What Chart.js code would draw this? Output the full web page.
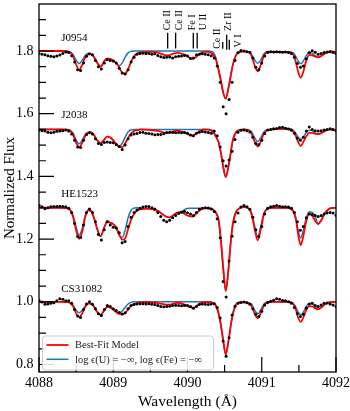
<!DOCTYPE html>
<html><head><meta charset="utf-8">
<script src="https://cdn.jsdelivr.net/npm/chart.js@4.4.0/dist/chart.umd.min.js"></script>
<style>html,body{margin:0;padding:0;background:#fff;}canvas{display:block;}</style>
</head><body>
<canvas id="c" width="350" height="411"></canvas>
<script>
// ---------- data ----------
const dataWl = [
4088.00,4088.04,4088.08,4088.12,4088.16,4088.20,4088.24,4088.28,4088.32,4088.36,
4088.40,4088.44,4088.48,4088.52,4088.56,4088.60,4088.64,4088.68,4088.72,4088.76,
4088.80,4088.84,4088.88,4088.92,4088.96,4089.00,4089.04,4089.08,4089.12,4089.16,
4089.20,4089.24,4089.28,4089.32,4089.36,4089.40,4089.44,4089.48,4089.52,4089.56,
4089.60,4089.64,4089.68,4089.72,4089.76,4089.80,4089.84,4089.88,4089.92,4089.96,
4090.00,4090.04,4090.08,4090.12,4090.16,4090.20,4090.24,4090.28,4090.32,4090.36,
4090.40,4090.44,4090.48,4090.52,4090.56,4090.60,4090.64,4090.68,4090.72,4090.76,
4090.80,4090.84,4090.88,4090.92,4090.96,4091.00,4091.04,4091.08,4091.12,4091.16,
4091.20,4091.24,4091.28,4091.32,4091.36,4091.40,4091.44,4091.48,4091.52,4091.56,
4091.60,4091.64,4091.68,4091.72,4091.76,4091.80,4091.84,4091.88,4091.92,4091.96,
4092.00];

const modelWl = [
4088.00,4088.10,4088.20,4088.30,4088.38,4088.42,4088.46,4088.50,4088.54,4088.58,
4088.62,4088.66,4088.70,4088.74,4088.78,4088.83,4088.88,4088.92,4088.96,4089.00,
4089.04,4089.08,4089.12,4089.16,4089.20,4089.24,4089.28,4089.32,4089.38,4089.45,
4089.52,4089.60,4089.66,4089.71,4089.76,4089.81,4089.86,4089.92,4089.97,4090.02,
4090.07,4090.12,4090.17,4090.22,4090.28,4090.34,4090.38,4090.42,4090.45,4090.48,
4090.515,4090.55,4090.58,4090.61,4090.65,4090.70,4090.76,4090.82,4090.86,4090.90,
4090.945,4090.99,4091.03,4091.08,4091.15,4091.25,4091.35,4091.42,4091.46,4091.49,
4091.525,4091.56,4091.60,4091.64,4091.68,4091.72,4091.76,4091.80,4091.85,4091.92,
4092.00];

const stars = ['J0954','J2038','HE1523','CS31082'];

// observed spectra (offset)
const obsJ0954 = [
1.792,1.790,1.788,1.785,1.783,1.782,1.784,1.787,1.792,1.797,
1.795,1.785,1.765,1.740,1.738,1.762,1.783,1.791,1.788,1.770,
1.750,1.743,1.762,1.772,1.770,1.768,1.762,1.745,1.730,1.727,
1.740,1.765,1.780,1.790,1.792,1.793,1.792,1.792,1.790,1.791,
1.786,1.782,1.779,1.780,1.781,1.778,1.782,1.783,1.784,1.786,
1.784,1.776,1.778,1.788,1.790,1.791,1.790,1.788,1.785,1.778,
1.752,1.700,1.622,1.600,1.645,1.700,1.770,1.795,1.802,1.800,
1.798,1.796,1.778,1.748,1.740,1.762,1.784,1.795,1.798,1.797,
1.798,1.797,1.796,1.797,1.795,1.792,1.780,1.760,1.748,1.752,
1.775,1.795,1.801,1.796,1.790,1.792,1.795,1.797,1.798,1.795,
1.792];
const obsJ2038 = [
1.548,1.546,1.545,1.541,1.539,1.541,1.544,1.545,1.546,1.548,
1.545,1.535,1.515,1.494,1.492,1.515,1.534,1.539,1.535,1.520,
1.505,1.502,1.508,1.510,1.508,1.507,1.502,1.495,1.486,1.500,
1.520,1.532,1.535,1.537,1.540,1.541,1.538,1.537,1.535,1.533,
1.534,1.534,1.536,1.540,1.541,1.540,1.539,1.540,1.539,1.540,
1.538,1.532,1.530,1.538,1.541,1.543,1.542,1.540,1.538,1.545,
1.530,1.494,1.450,1.433,1.452,1.480,1.518,1.541,1.547,1.548,
1.546,1.542,1.525,1.505,1.501,1.515,1.537,1.548,1.550,1.552,
1.553,1.556,1.557,1.554,1.551,1.547,1.538,1.522,1.515,1.525,
1.545,1.558,1.550,1.546,1.545,1.546,1.548,1.550,1.552,1.550,
1.546];
const obsHE1523 = [
1.308,1.303,1.297,1.300,1.303,1.304,1.304,1.305,1.304,1.303,
1.298,1.285,1.250,1.208,1.205,1.245,1.285,1.296,1.285,1.255,
1.215,1.197,1.230,1.255,1.245,1.238,1.235,1.220,1.188,1.192,
1.240,1.270,1.285,1.293,1.298,1.302,1.304,1.304,1.300,1.296,
1.285,1.272,1.260,1.255,1.260,1.268,1.275,1.282,1.286,1.288,
1.284,1.280,1.275,1.285,1.295,1.298,1.300,1.299,1.296,1.288,
1.265,1.204,1.065,1.015,1.130,1.209,1.255,1.283,1.302,1.307,
1.303,1.295,1.270,1.230,1.208,1.240,1.280,1.298,1.303,1.305,
1.307,1.305,1.303,1.303,1.302,1.298,1.285,1.255,1.228,1.240,
1.268,1.280,1.278,1.275,1.272,1.275,1.280,1.283,1.285,1.283,
1.276];
const obsCS31082 = [
1.004,0.999,0.992,0.993,0.995,0.997,1.003,1.010,1.008,1.003,
1.003,0.995,0.975,0.955,0.950,0.975,0.993,1.000,0.992,0.978,
0.962,0.956,0.975,0.988,0.985,0.978,0.972,0.966,0.961,0.965,
0.978,0.988,0.991,0.993,0.994,0.994,0.993,0.994,0.992,0.991,
0.988,0.985,0.984,0.985,0.986,0.988,0.989,0.988,0.987,0.988,
0.988,0.985,0.979,0.985,0.991,0.993,0.992,0.991,0.993,0.994,
0.982,0.948,0.875,0.826,0.885,0.958,0.986,0.995,0.998,0.999,
0.997,0.992,0.978,0.960,0.953,0.970,0.990,0.998,1.002,1.005,
1.010,1.008,1.004,1.003,1.000,0.995,0.982,0.963,0.953,0.960,
0.980,0.993,0.995,0.988,0.985,0.990,0.995,0.996,0.993,0.990,
0.985];

// best-fit models
const bestJ0954 = [
1.800,1.800,1.800,1.800,1.799,1.796,1.783,1.757,1.740,1.755,
1.778,1.789,1.790,1.781,1.764,1.750,1.768,1.776,1.775,1.770,
1.762,1.748,1.731,1.728,1.742,1.765,1.783,1.792,1.796,1.797,
1.797,1.795,1.790,1.786,1.787,1.792,1.794,1.792,1.788,1.780,
1.775,1.782,1.792,1.797,1.797,1.790,1.775,1.738,1.705,1.668,
1.648,1.680,1.718,1.755,1.785,1.796,1.799,1.797,1.786,1.757,
1.735,1.757,1.785,1.798,1.797,1.797,1.797,1.791,1.763,1.734,
1.715,1.734,1.770,1.788,1.786,1.782,1.780,1.784,1.792,1.799,
1.797];
const bestJ2038 = [
1.550,1.550,1.550,1.550,1.549,1.545,1.532,1.508,1.493,1.506,
1.528,1.540,1.541,1.532,1.516,1.506,1.518,1.527,1.524,1.515,
1.503,1.494,1.493,1.505,1.523,1.537,1.545,1.548,1.550,1.549,
1.548,1.545,1.541,1.538,1.539,1.544,1.546,1.543,1.539,1.533,
1.530,1.537,1.546,1.550,1.549,1.542,1.528,1.508,1.475,1.432,
1.398,1.430,1.472,1.515,1.540,1.548,1.550,1.548,1.538,1.513,
1.495,1.513,1.538,1.548,1.550,1.552,1.552,1.545,1.528,1.510,
1.497,1.510,1.528,1.539,1.539,1.536,1.535,1.538,1.545,1.550,
1.548];
const bestHE1523 = [
1.300,1.300,1.300,1.300,1.298,1.292,1.270,1.228,1.201,1.222,
1.268,1.292,1.290,1.268,1.235,1.209,1.238,1.257,1.252,1.248,
1.238,1.215,1.198,1.202,1.232,1.262,1.280,1.291,1.296,1.297,
1.296,1.290,1.280,1.272,1.269,1.276,1.284,1.285,1.279,1.273,
1.272,1.282,1.293,1.298,1.298,1.295,1.285,1.260,1.195,1.110,
1.035,1.100,1.185,1.248,1.285,1.298,1.302,1.298,1.282,1.238,
1.196,1.235,1.280,1.297,1.300,1.300,1.300,1.290,1.262,1.215,
1.181,1.210,1.258,1.282,1.275,1.258,1.248,1.260,1.282,1.298,
1.300];
const bestCS31082 = [
1.000,1.000,1.000,1.000,0.999,0.996,0.985,0.963,0.951,0.962,
0.983,0.994,0.994,0.985,0.969,0.958,0.973,0.984,0.982,0.975,
0.967,0.961,0.960,0.964,0.976,0.987,0.993,0.996,0.998,0.999,
0.998,0.996,0.993,0.991,0.991,0.994,0.997,0.995,0.990,0.984,
0.981,0.986,0.995,0.999,0.999,0.996,0.988,0.962,0.925,0.878,
0.832,0.872,0.920,0.960,0.990,0.998,0.999,0.997,0.988,0.965,
0.948,0.966,0.988,0.998,1.000,1.000,1.000,0.994,0.975,0.950,
0.936,0.950,0.974,0.986,0.985,0.979,0.976,0.982,0.992,0.999,
1.000];

// models with log eps(U) = -inf, log eps(Fe) = -inf
const noUJ0954 = [
1.800,1.800,1.800,1.800,1.799,1.797,1.788,1.771,1.760,1.770,
1.785,1.792,1.790,1.781,1.764,1.750,1.768,1.776,1.775,1.770,
1.760,1.753,1.762,1.780,1.794,1.799,1.800,1.800,1.800,1.800,
1.800,1.800,1.800,1.800,1.800,1.800,1.800,1.800,1.800,1.800,
1.800,1.800,1.800,1.800,1.800,1.797,1.780,1.738,1.705,1.668,
1.648,1.680,1.718,1.755,1.785,1.796,1.799,1.797,1.791,1.773,
1.761,1.773,1.791,1.798,1.797,1.797,1.797,1.795,1.782,1.768,
1.759,1.768,1.786,1.795,1.792,1.785,1.780,1.784,1.792,1.799,
1.797];
const noUJ2038 = [
1.550,1.550,1.550,1.550,1.549,1.547,1.538,1.516,1.504,1.515,
1.532,1.540,1.541,1.532,1.516,1.506,1.518,1.527,1.524,1.515,
1.503,1.497,1.505,1.525,1.542,1.549,1.550,1.550,1.550,1.550,
1.550,1.550,1.550,1.550,1.550,1.550,1.550,1.550,1.550,1.550,
1.550,1.550,1.550,1.550,1.550,1.546,1.530,1.508,1.475,1.432,
1.398,1.430,1.472,1.515,1.540,1.548,1.550,1.548,1.543,1.525,
1.511,1.525,1.542,1.549,1.550,1.552,1.552,1.548,1.537,1.525,
1.518,1.526,1.540,1.547,1.546,1.538,1.535,1.538,1.545,1.550,
1.548];
const noUHE1523 = [
1.300,1.300,1.300,1.300,1.299,1.294,1.275,1.238,1.212,1.232,
1.272,1.292,1.290,1.268,1.235,1.209,1.238,1.257,1.252,1.248,
1.235,1.212,1.205,1.228,1.268,1.292,1.299,1.300,1.298,1.297,
1.296,1.290,1.280,1.272,1.269,1.276,1.284,1.288,1.295,1.298,
1.298,1.298,1.298,1.298,1.298,1.295,1.285,1.260,1.195,1.110,
1.035,1.100,1.185,1.248,1.285,1.298,1.302,1.298,1.285,1.246,
1.207,1.244,1.283,1.298,1.300,1.300,1.300,1.292,1.268,1.228,
1.204,1.228,1.268,1.287,1.285,1.272,1.248,1.260,1.282,1.298,
1.300];
const noUCS31082 = [
1.000,1.000,1.000,1.000,0.999,0.997,0.989,0.973,0.965,0.972,
0.986,0.995,0.994,0.985,0.969,0.958,0.973,0.984,0.982,0.975,
0.968,0.965,0.970,0.982,0.993,0.998,1.000,1.000,1.000,1.000,
1.000,1.000,1.000,1.000,1.000,1.000,1.000,1.000,1.000,1.000,
1.000,1.000,1.000,1.000,1.000,0.998,0.990,0.962,0.925,0.878,
0.832,0.872,0.920,0.960,0.990,0.998,0.999,0.997,0.993,0.975,
0.962,0.976,0.993,0.999,1.000,1.000,1.000,0.996,0.983,0.967,
0.958,0.967,0.985,0.995,0.994,0.985,0.976,0.982,0.992,0.999,
1.000];

const yTickValues = [0.8, 1.0, 1.2, 1.4, 1.6, 1.8];
const xTickValues = [4088, 4089, 4090, 4091, 4092];
const lineIds = ['Ce II','Ce II','Fe I','U II','Ce II','Zr II','V I'];
const lineWl  = [4089.733, 4089.840, 4090.078, 4090.130, 4090.474, 4090.528, 4090.563];
const legendLabels = ['Best-Fit Model', 'log \u03f5(U) = \u2212\u221e, log \u03f5(Fe) = \u2212\u221e'];

// ---------- chart ----------
const obs  = [obsJ0954, obsJ2038, obsHE1523, obsCS31082];
const best = [bestJ0954, bestJ2038, bestHE1523, bestCS31082];
const noU  = [noUJ0954, noUJ2038, noUHE1523, noUCS31082];
const RED = '#ff0000', BLUE = '#1f77b4';
const SERIF = "'Liberation Serif', 'DejaVu Serif', serif";
const pts = (xs, ys) => xs.map((x, i) => ({x: x, y: ys[i]}));

const datasets = [];
stars.forEach((s, i) => {
  datasets.push({label: s + ' data', data: pts(dataWl, obs[i]), showLine: false,
    pointRadius: 1.5, pointBackgroundColor: '#000', pointBorderWidth: 0, order: 0});
  datasets.push({label: legendLabels[0], data: pts(modelWl, best[i]), borderColor: RED,
    borderWidth: 1.8, pointRadius: 0, cubicInterpolationMode: 'monotone', order: 1});
  datasets.push({label: legendLabels[1], data: pts(modelWl, noU[i]), borderColor: BLUE,
    borderWidth: 1.5, pointRadius: 0, cubicInterpolationMode: 'monotone', order: 2});
});

// label placement (annotation geometry, in data units)
const starLabelPos = [[4088.30, 1.842], [4088.30, 1.594], [4088.30, 1.343], [4088.30, 1.040]];
const markerGeom = [ // [lineTop, lineBottom, labelX, labelBottom]
  [1.858, 1.808, 4089.731, 1.866],
  [1.858, 1.808, 4089.886, 1.866],
  [1.858, 1.808, 4090.060, 1.866],
  [1.858, 1.808, 4090.209, 1.866],
  [1.829, 1.807, 4090.397, 1.807],
  [1.852, 1.804, 4090.555, 1.864],
  [1.836, 1.804, 4090.680, 1.811]
];

const decor = {
  id: 'decor',
  afterDatasetsDraw(chart) {
    const {ctx, chartArea: a, scales: {x, y}} = chart;
    ctx.save();
    // frame
    ctx.strokeStyle = '#000'; ctx.lineWidth = 1.3;
    ctx.strokeRect(a.left, a.top, a.right - a.left, a.bottom - a.top);
    // inward ticks
    ctx.lineWidth = 1.2;
    ctx.beginPath();
    for (let k = 0; k <= 23; k++) {
      const v = 0.8 + k * 0.05;
      const py = y.getPixelForValue(v);
      if (py < a.top || py > a.bottom) continue;
      const major = (k % 4 === 0);
      ctx.moveTo(a.left, py); ctx.lineTo(a.left + (major ? 15 : 7), py);
    }
    for (let k = 0; k <= 8; k++) {
      const v = 4088 + k * 0.5;
      const px = x.getPixelForValue(v);
      const major = (k % 2 === 0);
      ctx.moveTo(px, a.bottom); ctx.lineTo(px, a.bottom - (major ? 15 : 7));
    }
    ctx.stroke();
    // line identification markers
    ctx.lineWidth = 1.3;
    ctx.beginPath();
    lineWl.forEach((w, i) => {
      const px = x.getPixelForValue(w);
      ctx.moveTo(px, y.getPixelForValue(markerGeom[i][0]));
      ctx.lineTo(px, y.getPixelForValue(markerGeom[i][1]));
    });
    ctx.stroke();
    ctx.fillStyle = '#000';
    ctx.font = '10px ' + SERIF;
    lineIds.forEach((t, i) => {
      const px = x.getPixelForValue(markerGeom[i][2]);
      const py = y.getPixelForValue(markerGeom[i][3]);
      ctx.save(); ctx.translate(px, py); ctx.rotate(-Math.PI / 2);
      ctx.textAlign = 'left'; ctx.textBaseline = 'middle';
      ctx.fillText(t, 0, 0); ctx.restore();
    });
    // star labels
    ctx.font = '11px ' + SERIF;
    ctx.textAlign = 'left'; ctx.textBaseline = 'middle';
    stars.forEach((s, i) => {
      ctx.fillText(s, x.getPixelForValue(starLabelPos[i][0]), y.getPixelForValue(starLabelPos[i][1]));
    });
    // legend
    const lx = a.left + 3.5, lh = 34, lw = 171, ly = a.bottom - 2 - lh;
    ctx.beginPath();
    if (ctx.roundRect) ctx.roundRect(lx, ly, lw, lh, 3); else ctx.rect(lx, ly, lw, lh);
    ctx.fillStyle = 'rgba(255,255,255,0.85)'; ctx.fill();
    ctx.strokeStyle = '#cccccc'; ctx.lineWidth = 1; ctx.stroke();
    const rows = [[RED, 1.8, legendLabels[0]], [BLUE, 1.5, legendLabels[1]]];
    rows.forEach((r, i) => {
      const ry = ly + 9 + i * 14.3;
      ctx.strokeStyle = r[0]; ctx.lineWidth = r[1];
      ctx.beginPath(); ctx.moveTo(lx + 4, ry); ctx.lineTo(lx + 26, ry); ctx.stroke();
      ctx.fillStyle = '#222'; ctx.font = '10.5px ' + SERIF;
      ctx.textAlign = 'left'; ctx.textBaseline = 'middle';
      ctx.fillText(r[2], lx + 32.5, ry + 0.5);
    });
    ctx.restore();
  }
};

Chart.defaults.color = '#000';
new Chart(document.getElementById('c'), {
  type: 'line',
  data: {datasets: datasets},
  options: {
    responsive: false, animation: false, devicePixelRatio: 1,
    layout: {padding: {left: 0, right: 14, top: 1, bottom: 0}},
    plugins: {legend: {display: false}, tooltip: {enabled: false}},
    scales: {
      x: {
        type: 'linear', min: 4088, max: 4092,
        grid: {display: false, drawTicks: false},
        border: {display: false},
        ticks: {autoSkip: false, maxRotation: 0, padding: 3,
          font: {family: SERIF, size: 14}, callback: v => String(v)},
        afterBuildTicks: s => { s.ticks = xTickValues.map(v => ({value: v})); },
        afterFit: s => { s.height = 39; s.paddingLeft = 0; s.paddingRight = 0; },
        title: {display: true, text: 'Wavelength (\u00c5)', padding: {top: 0, bottom: 0},
          font: {family: SERIF, size: 15.5}}
      },
      y: {
        type: 'linear', min: 0.776, max: 1.950,
        grid: {display: false, drawTicks: false},
        border: {display: false},
        ticks: {autoSkip: false, padding: 5.5,
          font: {family: SERIF, size: 14}, callback: v => Number(v).toFixed(1)},
        afterBuildTicks: s => { s.ticks = yTickValues.map(v => ({value: v})); },
        afterFit: s => { s.width = 39; s.paddingTop = 0; s.paddingBottom = 0; },
        title: {display: true, text: 'Normalized Flux', padding: {top: 1, bottom: 0},
          font: {family: SERIF, size: 15}}
      }
    }
  },
  plugins: [decor]
});
</script>
</body></html>
